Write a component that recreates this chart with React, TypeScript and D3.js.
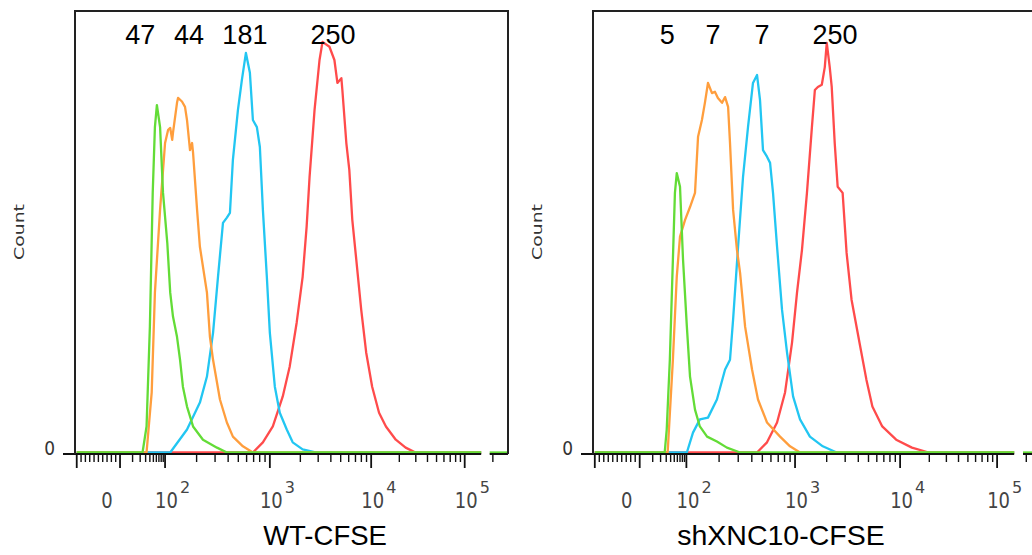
import React from 'react';
import * as d3 from 'd3';

type Pt = [number, number];

// [intensity, count (% of max)]
const wtGreen: Pt[] = [[24,0],[32,5.9],[40,28.5],[48,58.8],[55,73.7],[62,78.7],[75,73.7],[89,58.8],[105,47.5],[112,36.2],[119,30.8],[130,26.2],[139,21.0],[148,14.9],[162,10.4],[185,5.9],[230,2.9],[313,1.1],[389,0]];
const wtOrange: Pt[] = [[32,0],[45,13.6],[55,36.2],[75,55.0],[100,70.1],[107,73.1],[112,73.5],[117,70.8],[119,72.4],[130,79.2],[133,80.3],[145,79.5],[155,78.3],[162,75.3],[173,68.5],[181,70.1],[185,67.9],[202,55.0],[215,46.6],[251,36.2],[268,26.2],[287,21.0],[334,12.0],[389,6.8],[444,3.6],[553,1.4],[689,0]];
const wtBlue: Pt[] = [[112,0],[162,5.2],[215,11.3],[251,17.2],[287,27.1],[320,39.8],[357,52.0],[389,53.2],[416,54.3],[444,66.3],[496,77.6],[541,84.4],[591,90.5],[645,86.0],[689,75.3],[752,73.7],[803,69.2],[858,55.0],[936,39.8],[1000,27.1],[1120,14.9],[1253,9.0],[1468,5.2],[1681,2.3],[2107,0.7],[2890,0]];
const wtRed: Pt[] = [[689,0],[858,2.3],[1070,5.9],[1341,12.7],[1571,19.5],[1839,29.4],[2107,39.8],[2306,51.1],[2466,62.4],[2762,77.6],[3092,88.9],[3309,93.0],[3874,91.9],[4337,88.9],[4642,83.7],[5080,84.8],[5196,82.1],[5687,70.1],[6085,64.0],[6512,52.7],[7128,43.7],[7978,32.3],[8934,22.6],[10245,14.9],[12140,9.0],[14380,5.9],[18330,2.9],[23360,1.1],[29770,0]];

const shGreen: Pt[] = [[27,0],[31,5.2],[38,21.0],[46,43.7],[52,58.8],[58,63.3],[70,60.2],[83,43.7],[101,28.5],[108,17.2],[120,9.7],[133,5.9],[155,3.6],[191,2.5],[236,1.1],[312,0]];
const shOrange: Pt[] = [[33,0],[46,21.0],[58,39.8],[70,48.9],[93,52.7],[108,55.6],[120,58.8],[128,71.5],[139,75.3],[148,79.2],[158,83.7],[172,81.4],[183,81.7],[195,80.3],[213,79.2],[227,80.5],[242,78.3],[252,70.1],[269,55.0],[292,45.9],[312,40.7],[347,28.5],[402,18.8],[456,12.0],[552,6.8],[728,3.6],[899,1.4],[1115,0]];
const shBlue: Pt[] = [[101,0],[115,4.5],[133,7.5],[158,7.9],[191,12.0],[227,18.8],[252,21.0],[269,30.1],[299,46.6],[332,62.4],[369,73.7],[410,83.7],[447,85.5],[476,79.8],[507,68.5],[552,67.0],[589,65.6],[627,58.8],[683,46.6],[759,32.3],[844,22.6],[959,12.7],[1115,7.5],[1385,3.6],[1837,1.4],[2490,0]];
const shRed: Pt[] = [[447,0],[552,2.3],[683,6.8],[809,13.6],[938,24.9],[1044,36.2],[1164,45.9],[1298,58.8],[1447,73.7],[1544,82.1],[1648,82.8],[1797,83.3],[1919,87.3],[2004,92.8],[2138,87.3],[2234,82.8],[2385,70.1],[2545,60.2],[2837,58.8],[3095,45.2],[3450,34.6],[4103,24.9],[4777,16.5],[5445,10.4],[6761,5.9],[9170,2.9],[13240,1.1],[19720,0]];

const wtLabels = ['47', '44', '181', '250'];
const wtLabelAt = [20, 169, 578, 4207];
const shLabels = ['5', '7', '7', '250'];
const shLabelAt = [32, 176, 497, 2399];

// drawing order: red, blue, orange, green (green on top)
const colors = ['#ff4b4b', '#22c6f2', '#ff9e3d', '#63dc37'];

const tickValues = [0, 100, 1000, 10000, 100000];
const tickExp = ['', '2', '3', '4', '5'];
const RANGE_MIN = -100;
const RANGE_MAX = 150000;
const OFFSCALE = 185000;

// logicle-like transform: linear below zero, compressed 0..100, log above
const toT = (v: number) =>
  v < 0 ? v / 100 : v <= 100 ? Math.log10(1 + 0.09 * v) : 1 + Math.log10(v / 100);

const anchorValues = [-100, 0, 100, 1000, 10000, 100000];

type PanelProps = {
  x0: number; w: number; series: Pt[][]; labels: string[]; labelAt: number[];
  title: string; titleX: number; titleSize: number;
};

const Panel = ({ x0, w, series, labels, labelAt, title, titleX, titleSize }: PanelProps) => {
  const anchorFrac = [0.004, 0.104, 0.208, 0.45, 0.684, 0.9];
  const sx = d3.scaleLinear().domain(anchorValues.map(toT)).range(anchorFrac.map(f => x0 + f * w));
  const x = (v: number) => sx(toT(v));
  const y = d3.scaleLinear().domain([0, 100]).range([452.5, 11]);
  const line = d3.line<Pt>().x(d => x(d[0])).y(d => y(d[1]));
  const right = x0 + w;
  const axisY = 454;

  const minor: number[] = [];
  d3.range(1, 10).forEach(i => { minor.push(-i * 10); minor.push(i * 10); });
  [100, 1000, 10000].forEach(k => d3.range(2, 10).forEach(m => minor.push(m * k)));
  minor.push(200000);
  const major = [RANGE_MIN, ...tickValues];

  return (
    <g>
      {series.map((s, i) => (
        <path key={i} d={line([[RANGE_MIN, 0], ...s, [RANGE_MAX, 0]]) || ''} fill="none"
          stroke={colors[i]} strokeWidth={2.3} strokeLinejoin="round" />
      ))}
      <line x1={x(OFFSCALE)} x2={right} y1={y(0)} y2={y(0)} stroke={colors[3]} strokeWidth={2.3} />
      <line x1={x0 - 12} x2={x(RANGE_MAX)} y1={axisY} y2={axisY} stroke="#111" strokeWidth={2} />
      <line x1={x(OFFSCALE)} x2={right} y1={axisY} y2={axisY} stroke="#111" strokeWidth={2} />
      <path d={`M${x0},${axisY} V11 H${right} V${axisY}`} fill="none" stroke="#222" strokeWidth={2} />
      {major.map(v => (
        <line key={'M' + v} x1={x(v)} x2={x(v)} y1={axisY} y2={468} stroke="#111" strokeWidth={1.8} />
      ))}
      {minor.filter(v => x(v) < right).map(v => (
        <line key={'m' + v} x1={x(v)} x2={x(v)} y1={axisY} y2={462} stroke="#111" strokeWidth={1.4} />
      ))}
      {tickValues.map((v, i) => (
        <g key={'t' + v} fill="#444" fontFamily="DejaVu Sans">
          {i === 0 ? (
            <text transform={`translate(${x(v) - 13},508) scale(1,1.15)`} textAnchor="middle" fontSize={18}>0</text>
          ) : (
            <>
              <text transform={`translate(${x(v) + 1.5},508) scale(1,1.15)`} textAnchor="middle" fontSize={18}>10</text>
              <text x={x(v) + 15} y={493} fontSize={16}>{tickExp[i]}</text>
            </>
          )}
        </g>
      ))}
      <text transform={`translate(${x0 - 20},455) scale(1,1.15)`} textAnchor="end" fontSize={17}
        fontFamily="DejaVu Sans" fill="#333">0</text>
      <text transform={`translate(${x0 - 51},232) scale(1,1.3) rotate(-90)`} textAnchor="middle"
        fontSize={14.5} fontFamily="DejaVu Sans" fill="#333">Count</text>
      {labels.map((l, i) => (
        <text key={'l' + i} x={x(labelAt[i])} y={44} textAnchor="middle" fontSize={27}
          fontFamily="Liberation Sans, Arial" fill="#000">{l}</text>
      ))}
      <text x={titleX} y={545} textAnchor="middle" fontSize={titleSize}
        fontFamily="Liberation Sans, Arial" fill="#000">{title}</text>
    </g>
  );
};

export default function App() {
  return (
    <svg width={1032} height={555} style={{ position: 'absolute', left: 0, top: 0, background: '#fff' }}>
      <rect width={1032} height={555} fill="#fff" />
      <Panel x0={75} w={433} series={[wtRed, wtBlue, wtOrange, wtGreen]} labels={wtLabels}
        labelAt={wtLabelAt} title="WT-CFSE" titleX={325} titleSize={27.5} />
      <Panel x0={593} w={449} series={[shRed, shBlue, shOrange, shGreen]} labels={shLabels}
        labelAt={shLabelAt} title="shXNC10-CFSE" titleX={781} titleSize={28.5} />
    </svg>
  );
}
